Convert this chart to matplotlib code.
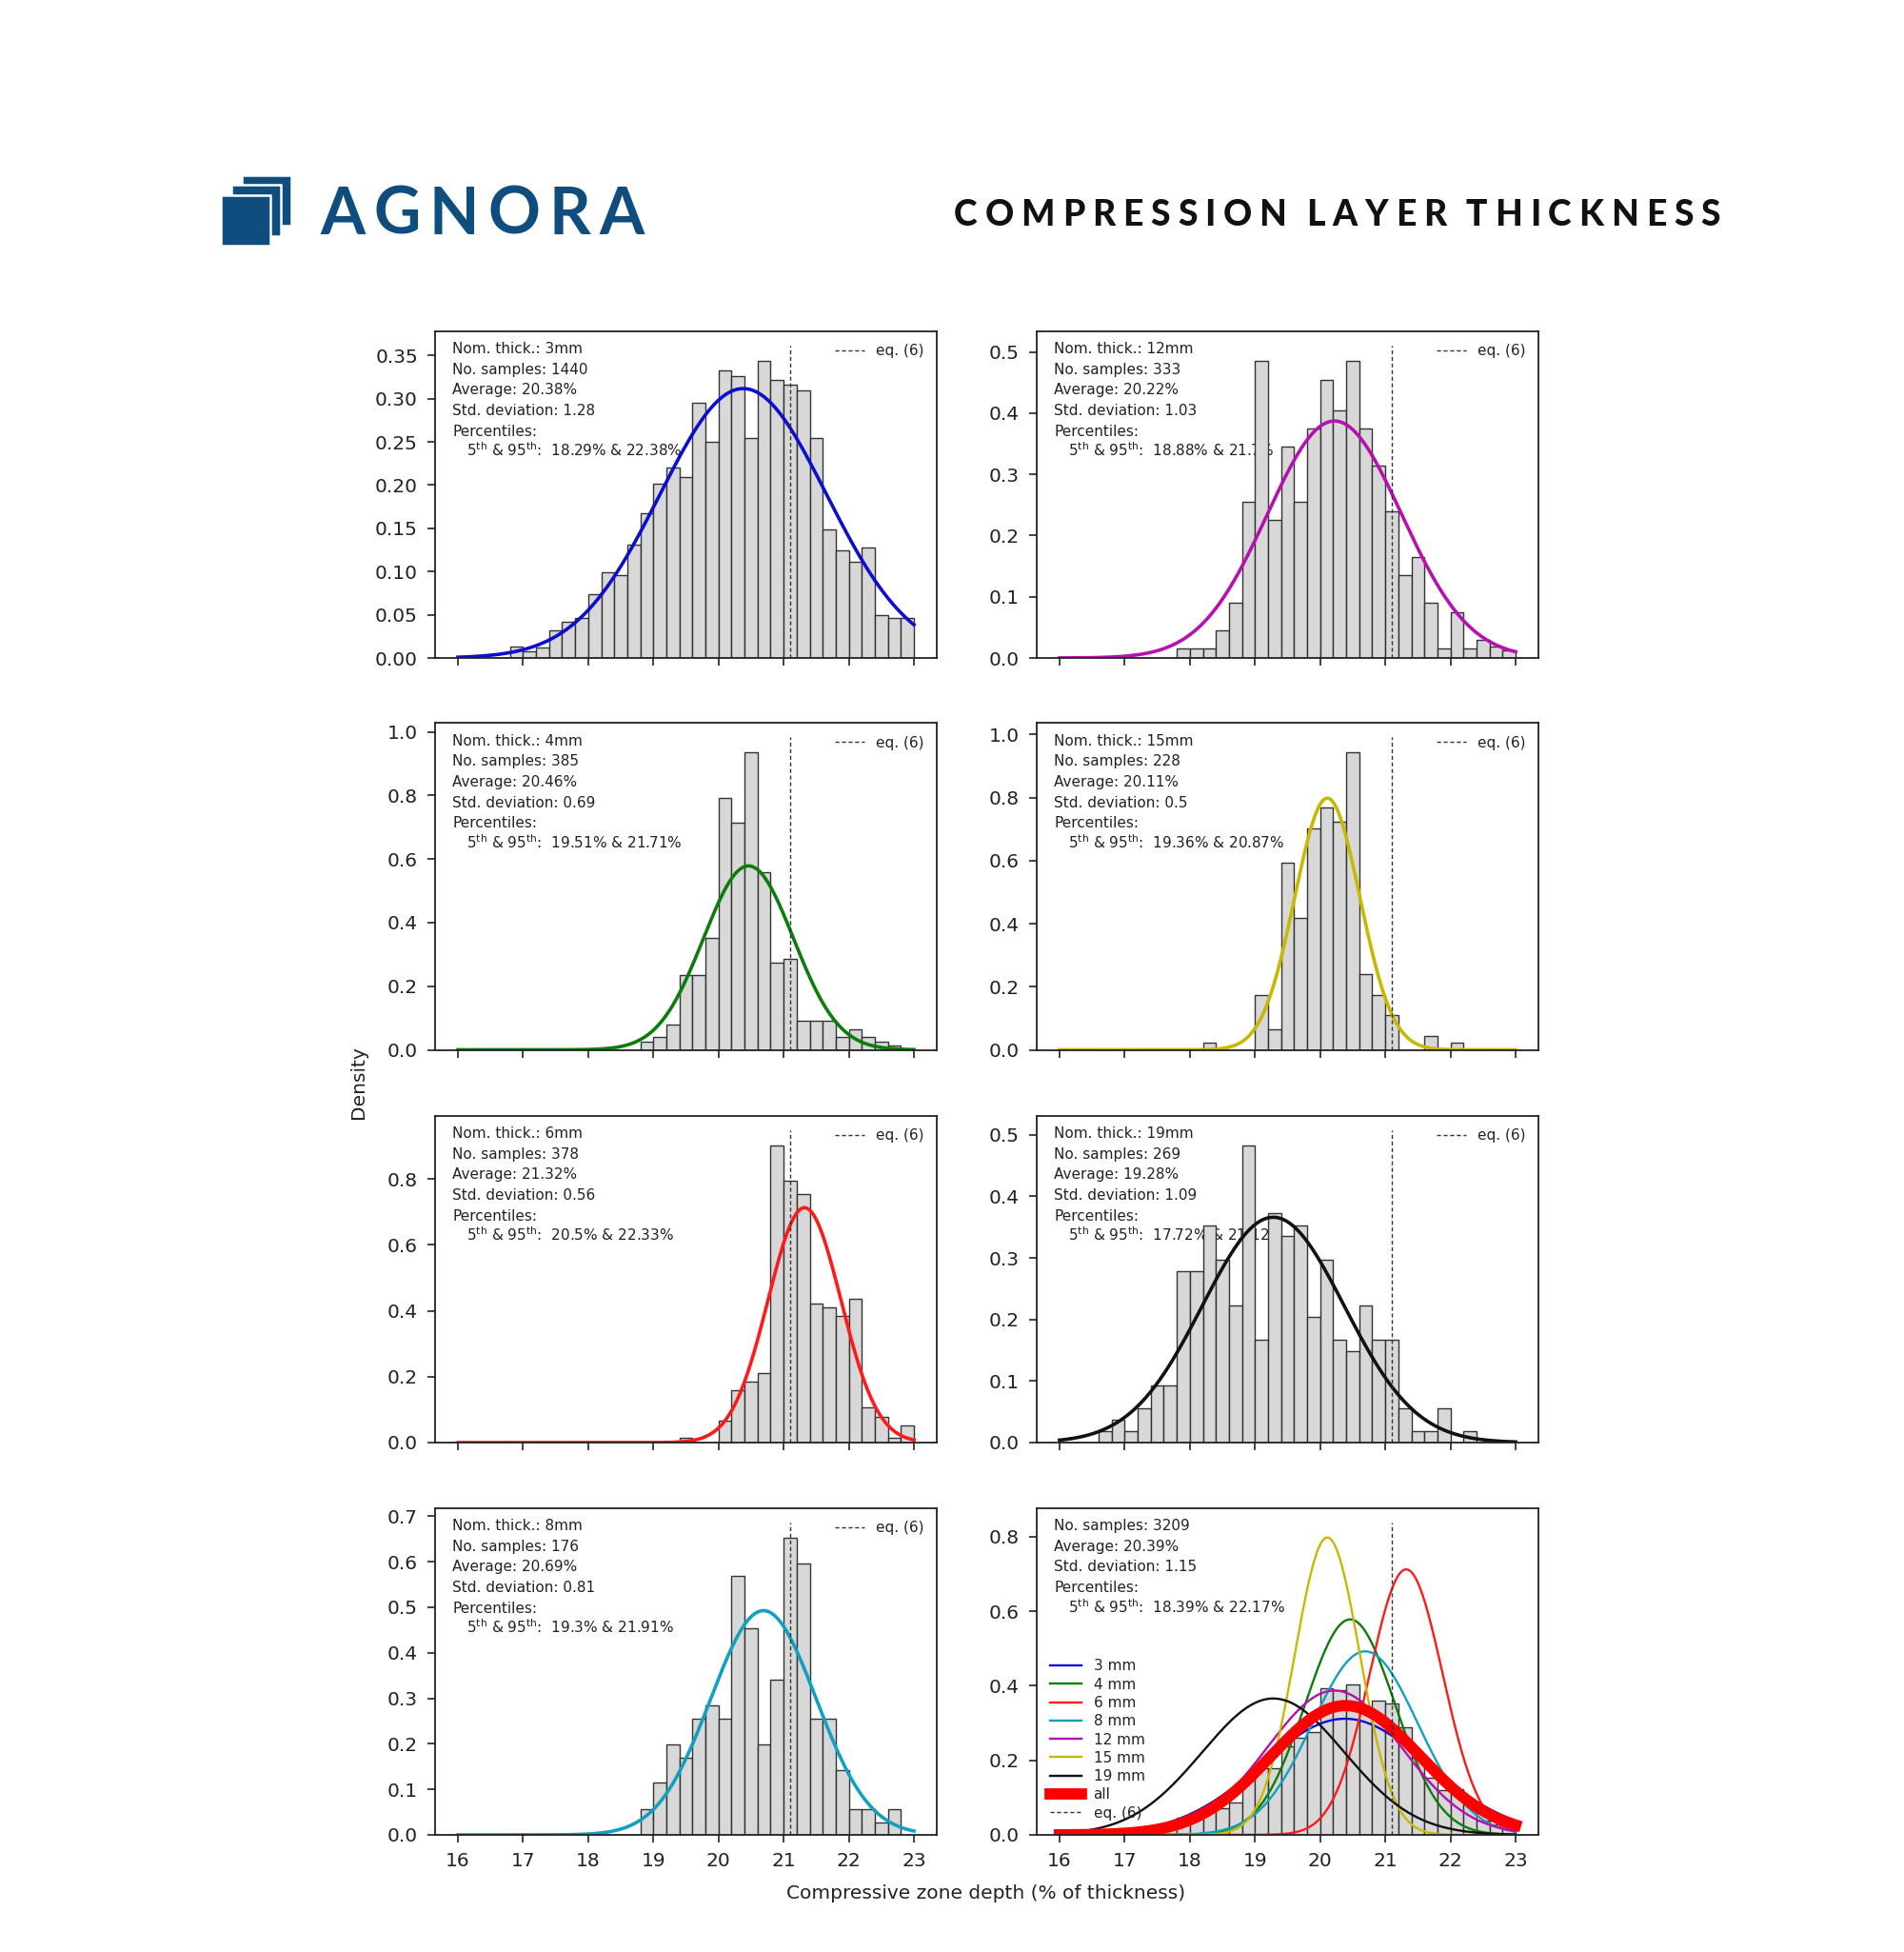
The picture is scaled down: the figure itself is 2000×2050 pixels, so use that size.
import numpy as np
import matplotlib
matplotlib.use("Agg")
import matplotlib.pyplot as plt
from matplotlib.patches import Rectangle
from matplotlib.ticker import MultipleLocator
from matplotlib.font_manager import FontProperties

# ---------------- data ----------------
bin_edges = np.round(np.arange(16.0, 23.0001, 0.2), 1)   # 35 bins of 0.2 %

groups = ["3", "4", "6", "8", "12", "15", "19"]
n_samples = [1440, 385, 378, 176, 333, 228, 269]
averages = [20.38, 20.46, 21.32, 20.69, 20.22, 20.11, 19.28]
std_devs = [1.28, 0.69, 0.56, 0.81, 1.03, 0.5, 1.09]
pct5 = [18.29, 19.51, 20.5, 19.3, 18.88, 19.36, 17.72]
pct95 = [22.38, 21.71, 22.33, 21.91, 21.7, 20.87, 21.12]

all_n = 3209
all_avg = 20.39
all_std = 1.15
all_p5 = 18.39
all_p95 = 22.17

eq6_value = 21.1

# histogram densities, bins 16.0-16.2 ... 22.8-23.0
hist_3mm = [0, 0, 0, 0, 0.0136, 0.008, 0.012, 0.032, 0.042, 0.046,
            0.074, 0.099, 0.0955, 0.131, 0.167, 0.202, 0.220, 0.2095, 0.295, 0.250,
            0.333, 0.326, 0.255, 0.344, 0.322, 0.316, 0.309, 0.255, 0.149, 0.124,
            0.111, 0.128, 0.050, 0.046, 0.046]
hist_4mm = [0, 0, 0, 0, 0, 0, 0, 0, 0, 0,
            0, 0, 0, 0, 0.026, 0.039, 0.078, 0.234, 0.234, 0.351,
            0.792, 0.714, 0.935, 0.558, 0.273, 0.286, 0.091, 0.091, 0.091, 0.039,
            0.065, 0.039, 0.026, 0.013, 0]
hist_6mm = [0, 0, 0, 0, 0, 0, 0, 0, 0, 0,
            0, 0, 0, 0, 0, 0, 0, 0.013, 0, 0,
            0.066, 0.159, 0.185, 0.212, 0.902, 0.794, 0.754, 0.423, 0.410, 0.384,
            0.437, 0.106, 0.079, 0.013, 0.053]
hist_8mm = [0, 0, 0, 0, 0, 0, 0, 0, 0, 0,
            0, 0, 0, 0, 0.057, 0.114, 0.199, 0.170, 0.256, 0.284,
            0.256, 0.568, 0.4545, 0.199, 0.341, 0.653, 0.597, 0.256, 0.256, 0.142,
            0.057, 0.057, 0.028, 0.057, 0]
hist_12mm = [0, 0, 0, 0, 0, 0, 0, 0, 0, 0.015,
             0.015, 0.015, 0.045, 0.090, 0.255, 0.486, 0.225, 0.345, 0.255, 0.375,
             0.455, 0.405, 0.486, 0.375, 0.315, 0.240, 0.135, 0.165, 0.090, 0.015,
             0.075, 0.015, 0.030, 0.018, 0.012]
hist_15mm = [0, 0, 0, 0, 0, 0, 0, 0, 0, 0,
             0, 0.022, 0, 0, 0, 0.175, 0.066, 0.592, 0.417, 0.702,
             0.768, 0.724, 0.943, 0.241, 0.175, 0.110, 0, 0, 0.044, 0,
             0.022, 0, 0, 0, 0]
hist_19mm = [0, 0, 0, 0.0186, 0.037, 0.0186, 0.056, 0.093, 0.093, 0.279,
             0.279, 0.353, 0.297, 0.223, 0.483, 0.167, 0.372, 0.335, 0.353, 0.204,
             0.297, 0.167, 0.149, 0.223, 0.167, 0.167, 0.056, 0.0186, 0.0186, 0.056,
             0, 0.0186, 0, 0, 0]

hist_by_group = [hist_3mm, hist_4mm, hist_6mm, hist_8mm, hist_12mm, hist_15mm, hist_19mm]
# pooled histogram of all samples (sample-weighted combination of the groups)
hist_all = sum(n * np.asarray(h) for n, h in zip(n_samples, hist_by_group)) / sum(n_samples)

curve_colors = ["#0d0dd0", "#0a7d0a", "#ff1a1a", "#12a0c0", "#b80fb0", "#c9b800", "#111111"]
all_color = "#ff0000"

# ---------------- figure ----------------
W, H = 2000, 2050
fig = plt.figure(figsize=(W / 100, H / 100), dpi=100)
fig.patch.set_facecolor("white")

TXT = "#222222"
col_left = [457 / W, 1089 / W]
ax_w = 527 / W
row_bottom = [1 - 691 / H, 1 - 1102.5 / H, 1 - 1515 / H, 1 - 1927 / H]
ax_h = 343.5 / H

x_plot = np.linspace(bin_edges[0], bin_edges[-1], 400)
bin_centers = (bin_edges[:-1] + bin_edges[1:]) / 2


def normal_pdf(x, mu, sd):
    return np.exp(-0.5 * ((x - mu) / sd) ** 2) / (sd * np.sqrt(2 * np.pi))


def style_axes(ax, ytop, ystep, show_xlabels):
    lo, hi = bin_edges[0], bin_edges[-1]
    pad = 0.05 * (hi - lo)
    ax.set_xlim(lo - pad, hi + pad)
    ax.set_ylim(0, ytop)
    ax.xaxis.set_major_locator(MultipleLocator(1))
    ax.yaxis.set_major_locator(MultipleLocator(ystep))
    ax.tick_params(direction="out", length=6, width=1.2, pad=7, labelsize=14.5,
                   colors="#222222", labelcolor=TXT)
    if not show_xlabels:
        ax.tick_params(labelbottom=False)
    for sp in ax.spines.values():
        sp.set_linewidth(1.3)
        sp.set_color("#222222")


def stats_text(ax, lines):
    for k, line in enumerate(lines):
        indent = 11.0 if line.startswith("5$") else 0.0
        ax.annotate(line, xy=(0, 1), xycoords="axes fraction",
                    xytext=(13 + indent, -17.1 - 15.55 * k), textcoords="offset points",
                    fontsize=11, color=TXT, ha="left", va="baseline", zorder=0.5)


def pct_line(p5, p95):
    return "5$^{\\mathrm{th}}$ & 95$^{\\mathrm{th}}$:  " + f"{p5:g}% & {p95:g}%"


def draw_hist(ax, heights):
    ax.hist(bin_centers, bins=bin_edges, weights=heights, color="#d8d8d8",
            edgecolor="#333333", linewidth=1.0)


EQ_STYLE = dict(color="#333333", linewidth=1.0, linestyle=(0, (3, 2)))

# positions of the single-group panels: (column, row)
panel_pos = {"3": (0, 0), "4": (0, 1), "6": (0, 2), "8": (0, 3),
             "12": (1, 0), "15": (1, 1), "19": (1, 2)}
ystep = {"3": 0.05, "4": 0.2, "6": 0.2, "8": 0.1, "12": 0.1, "15": 0.2, "19": 0.1}

for i, g in enumerate(groups):
    c, r = panel_pos[g]
    ax = fig.add_axes([col_left[c], row_bottom[r], ax_w, ax_h])
    h = np.asarray(hist_by_group[i])
    y_curve = normal_pdf(x_plot, averages[i], std_devs[i])
    draw_hist(ax, h)
    ax.plot(x_plot, y_curve, color=curve_colors[i], linewidth=2.6)
    ytop = 1.1 * max(h.max(), y_curve.max())
    ax.axvline(eq6_value, ymin=0, ymax=0.955, label="eq. (6)", **EQ_STYLE)
    style_axes(ax, ytop, ystep[g], show_xlabels=(r == 3))
    stats_text(ax, [f"Nom. thick.: {g}mm",
                    f"No. samples: {n_samples[i]}",
                    f"Average: {averages[i]:g}%",
                    f"Std. deviation: {std_devs[i]:g}",
                    "Percentiles:",
                    pct_line(pct5[i], pct95[i])])
    ax.legend(loc="upper right", frameon=False, fontsize=11, handlelength=2.0,
              labelcolor=TXT)

# ---- combined panel ----
ax = fig.add_axes([col_left[1], row_bottom[3], ax_w, ax_h])
draw_hist(ax, hist_all)
peak = 0
for i, g in enumerate(groups):
    yc = normal_pdf(x_plot, averages[i], std_devs[i])
    peak = max(peak, yc.max())
    ax.plot(x_plot, yc, color=curve_colors[i], linewidth=1.7, label=f"{g} mm")
y_all = normal_pdf(x_plot, all_avg, all_std)
ax.plot(x_plot, y_all, color=all_color, linewidth=8.5, label="all")
ax.axvline(eq6_value, ymin=0, ymax=0.955, label="eq. (6)", **EQ_STYLE)
ytop = 1.1 * max(peak, hist_all.max())
style_axes(ax, ytop, 0.2, show_xlabels=True)
stats_text(ax, [f"No. samples: {all_n}",
                f"Average: {all_avg:g}%",
                f"Std. deviation: {all_std:g}",
                "Percentiles:",
                pct_line(all_p5, all_p95)])
ax.legend(loc="center left", bbox_to_anchor=(0.0, 0.291), frameon=False, fontsize=11,
          handlelength=2.2, labelspacing=0.28, labelcolor=TXT)

# ---- shared axis labels ----
fig.text(1036 / W, 1 - 1988 / H, "Compressive zone depth (% of thickness)",
         ha="center", va="center", fontsize=14.5, color=TXT)
fig.text(376.7 / W, 1 - 1137 / H, "Density", rotation=90, ha="center", va="center",
         fontsize=14.5, color=TXT)

# ---------------- header ----------------
renderer = fig.canvas.get_renderer()


def tracked_text(s, x0, x1, baseline, size, color, family="Lato", weight="bold",
                 space_factor=0.6):
    prop = FontProperties(family=family, weight=weight, size=size)
    widths = []
    for ch in s:
        if ch == " ":
            widths.append(None)
            continue
        t = fig.text(0, 0, ch, fontproperties=prop)
        widths.append(t.get_window_extent(renderer).width)
        t.remove()
    n_space = s.count(" ")
    ink = sum(w for w in widths if w is not None)
    gap = ((x1 - x0) - ink) / ((len(s) - 1) + space_factor * n_space)
    x = x0
    for ch, w in zip(s, widths):
        if w is None:
            x += space_factor * gap + gap
            continue
        fig.text(x / W, 1 - baseline / H, ch, fontproperties=prop, color=color,
                 ha="left", va="baseline")
        x += w + gap


logo_blue = "#0f4d7e"
# logo icon: three stacked squares
for (lx, ty) in [(254, 184), (243, 194.5), (232.3, 205)]:
    fig.patches.append(Rectangle((lx / W, 1 - (ty + 53) / H), 52 / W, 53 / H,
                                 transform=fig.transFigure, facecolor=logo_blue,
                                 edgecolor="white", linewidth=1.8))

tracked_text("AGNORA", 336, 677, 246, 49, logo_blue, weight="bold")
tracked_text("COMPRESSION LAYER THICKNESS", 1002, 1807, 237.3, 26.8, "#111111",
             weight="black")

fig.savefig("out.png", dpi=100, facecolor="white")
